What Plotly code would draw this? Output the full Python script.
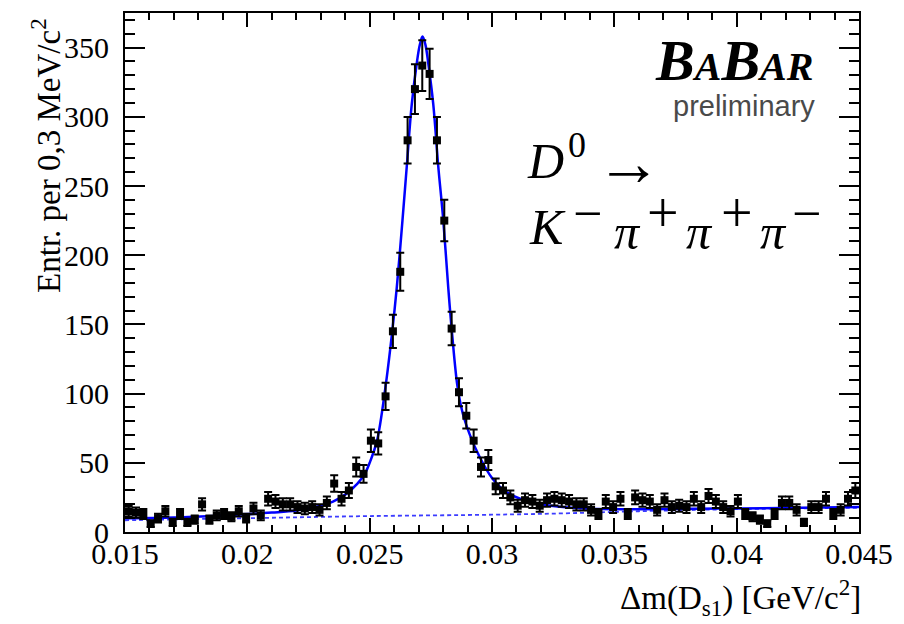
import numpy as np
import plotly.graph_objects as go

# ---------------- data ----------------
x_lo, x_hi = 0.015, 0.045
bin_width = 0.0003
counts = [15, 14, 13, 6, 10, 15, 7, 13, 7, 9,
          20, 9, 12, 13, 11, 15, 10, 17, 12, 24,
          22, 20, 20, 18, 17, 18, 16, 21, 35, 24,
          30, 47, 42, 66, 64, 98, 145, 188, 283, 320,
          337, 331, 283, 225, 147, 101, 84, 66, 47, 52,
          33, 30, 25, 19, 23, 22, 19, 23, 24, 23,
          22, 20, 20, 16, 13, 22, 18, 24, 13, 25,
          23, 22, 16, 23, 18, 19, 18, 24, 18, 26,
          22, 18, 15, 22, 13, 11, 9, 6, 13, 21,
          21, 16, 7, 18, 18, 24, 13, 16, 24, 30]
bin_centers = x_lo + bin_width * (np.arange(len(counts)) + 0.5)
errors = np.sqrt(np.array(counts, dtype=float))

fit_x = [0.015, 0.017, 0.019, 0.021, 0.022, 0.023, 0.0235, 0.024, 0.0245, 0.0248,
         0.0250, 0.0253, 0.02564, 0.02591, 0.02611, 0.02634, 0.02652, 0.02672, 0.02692,
         0.02705, 0.02716, 0.02728, 0.0274, 0.0276, 0.0278, 0.02801, 0.02821, 0.02837,
         0.02859, 0.0288, 0.0291, 0.0295, 0.0300, 0.0305, 0.0313, 0.0324, 0.0338,
         0.036, 0.040, 0.045]
fit_y = [10, 10.5, 12, 14, 15.5, 19, 22, 27, 35, 42,
         50, 66, 104, 143, 177, 225, 265, 309, 338,
         352, 358, 352, 338, 309, 265, 225, 177, 143,
         105, 86, 70, 54, 39, 30, 23, 19, 17,
         16.5, 17, 18]

bkg_x = [0.015, 0.020, 0.025, 0.030, 0.033, 0.036, 0.040, 0.045]
bkg_y = [8.5, 10, 11.5, 12.5, 13.5, 15, 16.5, 17.5]

x_ticks = [0.015, 0.02, 0.025, 0.03, 0.035, 0.04, 0.045]
x_ticklabels = ["0.015", "0.02", "0.025", "0.03", "0.035", "0.04", "0.045"]
y_ticks = [0, 50, 100, 150, 200, 250, 300, 350]

# decay label glyphs: (text, italic?, size, pixel x-centre, pixel y-centre, box height)
decay_glyphs = [
    ("D", True, 50, 548, 160, None),
    ("0", False, 36, 579, 144, None),
    ("→", False, 66, 632, 161, 40),
    ("K", True, 50, 550, 226, None),
    ("−", False, 52, 590, 212, 40),
    ("π", True, 50, 630, 231, None),
    ("+", False, 56, 666, 212, 40),
    ("π", True, 50, 703, 231, None),
    ("+", False, 56, 740, 212, 40),
    ("π", True, 50, 777, 231, None),
    ("−", False, 52, 810, 212, 40),
]

# ---------------- figure ----------------
PLOT_L, PLOT_R, PLOT_T, PLOT_B = 125, 863, 11, 532
W, H = 904, 624

def px(xp):
    return (xp - PLOT_L) / (PLOT_R - PLOT_L)

def py(yp):
    return (PLOT_B - yp) / (PLOT_B - PLOT_T)

fig = go.Figure()

fig.add_trace(go.Scatter(
    x=bkg_x, y=bkg_y, mode="lines", line_shape="spline",
    line=dict(color="rgb(60,60,255)", width=1.8, dash="4px,3px"),
    hoverinfo="skip", showlegend=False))

fig.add_trace(go.Scatter(
    x=fit_x, y=fit_y, mode="lines", line_shape="spline",
    line=dict(color="rgb(0,0,255)", width=2.5, smoothing=1.0),
    hoverinfo="skip", showlegend=False))

fig.add_trace(go.Scatter(
    x=bin_centers, y=counts, mode="markers",
    marker=dict(symbol="square", size=8, color="black"),
    error_y=dict(type="data", array=errors, visible=True,
                 color="black", thickness=2, width=4),
    showlegend=False))

serif = "Liberation Serif"
fig.update_layout(
    width=W, height=H,
    margin=dict(l=PLOT_L, r=W - PLOT_R, t=PLOT_T, b=H - PLOT_B),
    paper_bgcolor="white", plot_bgcolor="white",
    font=dict(family=serif, color="black"),
    xaxis=dict(
        range=[x_lo, x_hi], showgrid=False, zeroline=False,
        showline=True, linecolor="black", linewidth=2, mirror="ticks",
        ticks="inside", ticklen=14, tickwidth=1.5, tickcolor="black",
        tickvals=x_ticks, ticktext=x_ticklabels,
        tickfont=dict(family=serif, size=30, color="black"),
        minor=dict(dtick=0.001, ticks="inside", ticklen=7, tickwidth=1.5,
                   tickcolor="black", showgrid=False),
        ticklabelstandoff=-6,
    ),
    yaxis=dict(
        range=[0, 375], showgrid=False, zeroline=False,
        showline=True, linecolor="black", linewidth=2, mirror="ticks",
        ticks="inside", ticklen=20, tickwidth=1.5, tickcolor="black",
        tickvals=y_ticks,
        tickfont=dict(family=serif, size=30, color="black"),
        minor=dict(dtick=10, ticks="inside", ticklen=10, tickwidth=1.5,
                   tickcolor="black", showgrid=False),
        ticklabelstandoff=8,
    ),
)

# axis titles (ROOT-style, aligned to axis ends)
fig.add_annotation(
    text="Entr. per 0,3 MeV/c<sup>2</sup>", textangle=-90,
    xref="paper", yref="paper", x=px(46), y=py(154),
    xanchor="center", yanchor="middle", showarrow=False,
    font=dict(family=serif, size=33, color="black"))
fig.add_annotation(
    text="Δm(D<sub>s1</sub>) [GeV/c<sup>2</sup>]",
    xref="paper", yref="paper", x=px(867), y=py(572),
    xanchor="right", yanchor="top", showarrow=False,
    font=dict(family=serif, size=33, color="black"))

# BaBar logo
fig.add_annotation(
    text=("<b><i>B<span style='font-size:40px'>A</span>B"
          "<span style='font-size:40px'>AR</span></i></b>"),
    xref="paper", yref="paper", x=px(819), y=py(59),
    xanchor="right", yanchor="middle", showarrow=False,
    font=dict(family=serif, size=58, color="black"))
fig.add_annotation(
    text="preliminary",
    xref="paper", yref="paper", x=px(821), y=py(104),
    xanchor="right", yanchor="middle", showarrow=False,
    font=dict(family="Liberation Sans", size=29, color="#4a4a4a"))

# decay label, glyph by glyph
for txt, ital, size, gx, gy, hbox in decay_glyphs:
    kw = {}
    if hbox is not None:
        kw = dict(height=hbox, valign="middle")
    fig.add_annotation(
        text=f"<i>{txt}</i>" if ital else txt,
        xref="paper", yref="paper", x=px(gx), y=py(gy),
        xanchor="center", yanchor="middle", showarrow=False,
        font=dict(family=serif, size=size, color="black"), **kw)

fig.write_html("out.html")
